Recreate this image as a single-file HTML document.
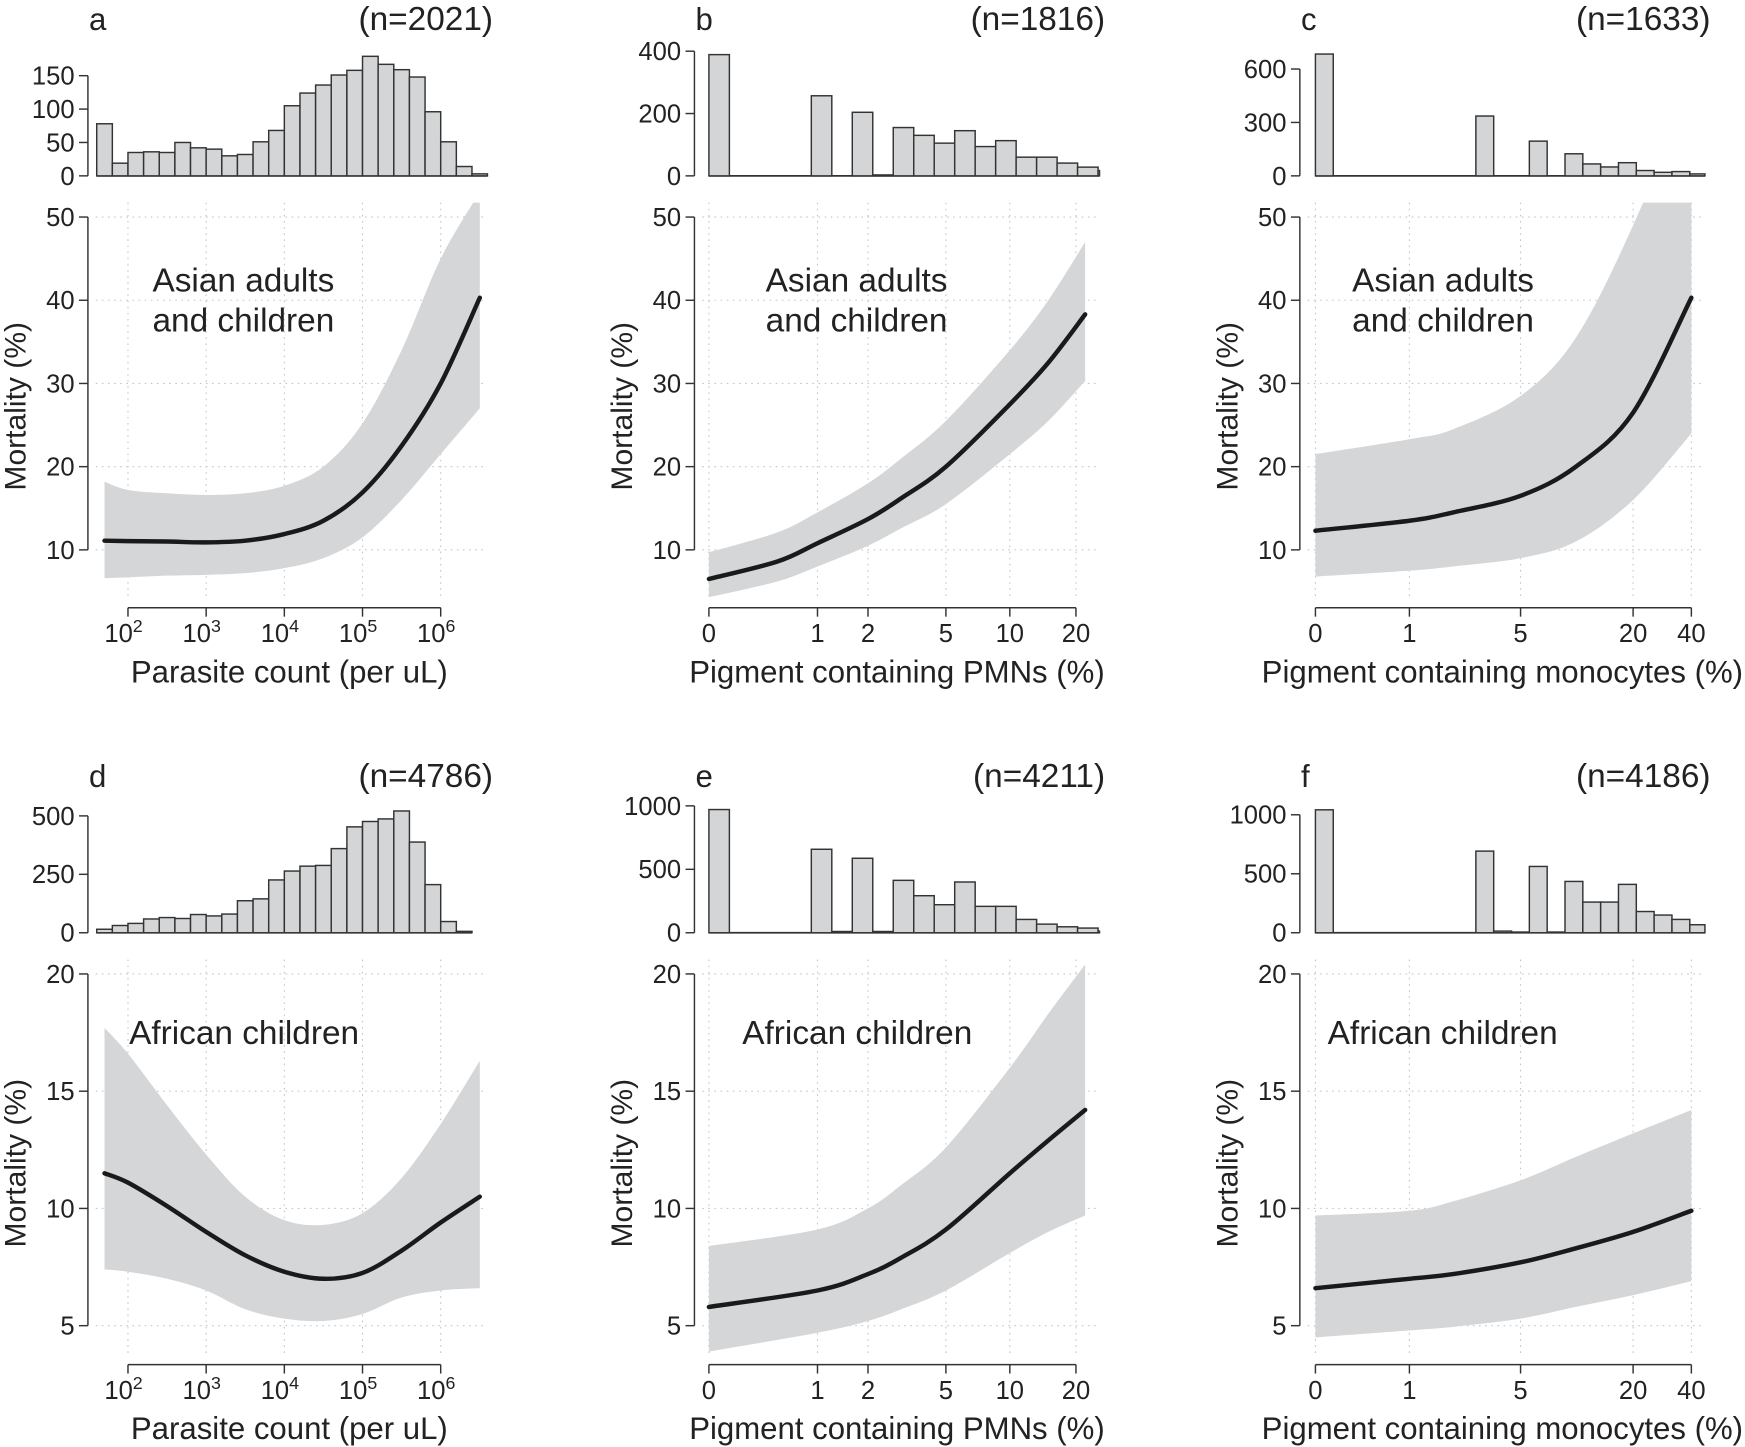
<!DOCTYPE html>
<html><head><meta charset="utf-8"><style>
html,body{margin:0;padding:0;background:#fff}
svg{display:block}
text{font-family:"Liberation Sans",Arial,sans-serif;fill:#222}
</style></head><body>
<svg id="fig" width="1745" height="1447" viewBox="0 0 1568 1300" preserveAspectRatio="none" xmlns="http://www.w3.org/2000/svg"></svg>
<script>
// ---- data ----
const histA = [78,19,35,36,35,50,42,40,30,32,51,68,105,124,136,151,158,179,167,159,148,96,51,14,3];
const histB = [389,0,0,0,0,257,0,204,3,155,130,105,145,94,113,60,60,41,28,17];
const histC = [684,0,0,0,0,0,0,0,0,336,0,0,195,0,124,67,50,74,30,20,24,11];
const histD = [15,31,40,59,65,61,78,72,80,137,145,226,264,285,288,360,453,476,487,521,388,206,48,6];
const histE = [971,0,0,0,0,658,10,587,10,413,292,221,400,208,208,105,68,47,37,13];
const histF = [1042,0,0,0,0,0,0,0,0,692,14,6,562,6,435,260,260,410,180,150,113,68];

const xA = [1.7,2,2.5,3,3.5,4,4.5,5,5.5,6,6.5];
const fitA = [11.1,11.05,11.0,10.9,11.1,11.9,13.5,16.9,22.5,30,40.3];
const loA = [6.6,6.7,6.9,7,7.2,7.8,9,11.5,16,21.5,27];
const hiA = [18.2,17.2,16.8,16.6,16.8,17.7,20,25.2,34,45,53];

const xB = [0,0.5,1,2,3,5,10,15,22];
const fitB = [6.5,8.6,10.8,13.7,16.2,20,27.5,32.5,38.3];
const loB = [4.3,6.2,8,10.5,12.6,15.5,21.5,25.5,30.3];
const hiB = [9.7,12.1,14.5,18,21,25.5,34,40,47];

const xC = [0,1,2,5,10,20,40];
const fitC = [12.3,13.5,14.5,16.5,20,26.5,40.3];
const loC = [6.8,7.5,8,9,11,16,24];
const hiC = [21.5,23.3,24.5,28.5,35.5,49,66];

const xD = [1.7,2,2.5,3,3.5,4,4.5,5,5.5,6,6.5];
const fitD = [11.5,11.1,10.1,9,8,7.3,7.0,7.25,8.2,9.4,10.5];
const loD = [7.4,7.3,7,6.5,5.7,5.3,5.2,5.5,6.2,6.5,6.6];
const hiD = [17.7,16.6,14.4,12.3,10.5,9.5,9.3,9.8,11.3,13.6,16.3];

const xE = [0,1,2,3,5,10,15,22];
const fitE = [5.8,6.5,7.2,7.9,9.1,11.5,12.9,14.2];
const loE = [3.9,4.7,5.2,5.7,6.5,8.1,9,9.7];
const hiE = [8.4,9.1,10,11,12.6,16,18.3,20.4];

const xF = [0,1,2,5,10,20,40];
const fitF = [6.6,7,7.2,7.7,8.3,9,9.9];
const loF = [4.5,4.8,4.95,5.3,5.8,6.3,6.9];
const hiF = [9.7,9.9,10.3,11.2,12.2,13.2,14.2];

const logTicks = [2,3,4,5,6];
const pmnTicks = [0,1,2,5,10,20];
const monoTicks = [0,1,5,20,40];
const topYTicks = [10,20,30,40,50];
const botYTicks = [5,10,15,20];

const NS = "http://www.w3.org/2000/svg";
const svg = document.getElementById('fig');
function mk(tag, attrs, parent, txt){
  const e = document.createElementNS(NS, tag);
  for (const k in attrs) e.setAttribute(k, attrs[k]);
  if (txt !== undefined) e.textContent = txt;
  (parent||svg).appendChild(e);
  return e;
}
function spline(pts){
  let d = 'M'+pts[0][0].toFixed(2)+','+pts[0][1].toFixed(2);
  for (let i=0;i<pts.length-1;i++){
    const p0=pts[Math.max(i-1,0)],p1=pts[i],p2=pts[i+1],p3=pts[Math.min(i+2,pts.length-1)];
    const c1=[p1[0]+(p2[0]-p0[0])/6,p1[1]+(p2[1]-p0[1])/6];
    const c2=[p2[0]-(p3[0]-p1[0])/6,p2[1]-(p3[1]-p1[1])/6];
    d+=' C'+c1[0].toFixed(2)+','+c1[1].toFixed(2)+' '+c2[0].toFixed(2)+','+c2[1].toFixed(2)+' '+p2[0].toFixed(2)+','+p2[1].toFixed(2);
  }
  return d;
}

function panel(o){
  const g = mk('g', {}, svg);
  
  
  const dy = o.dy;
  const X = o.xf;
  const Y = v => o.yTop + (o.yMax - v)*(o.yBot - o.yTop)/(o.yMax - o.yMin);
  const HY = v => 158+dy - v*o.hScale;
  const t1 = mk('text', {x:o.ax+1, y:27+dy, 'font-size':28}, g, o.letter);
  
  
  const t2 = mk('text', {x:o.right+6, y:27+dy, 'font-size':30, 'text-anchor':'end'}, g, o.n);
  
  
  const hg = mk('g', {}, g);
  
  
  const hx0 = X.hb(o.hStart);
  const hx1 = Math.min(X.hb(o.hStart + o.hist.length*o.hW), o.right+1);
  const bl = mk('line', {x1:hx0, x2:hx1, y1:158+dy, y2:158+dy, stroke:'#333', 'stroke-width':1.6}, hg);
  
  
  o.hist.forEach((c,i)=>{
    const x1 = X.hb(o.hStart + i*o.hW);
    let x2 = X.hb(o.hStart + (i+1)*o.hW);
    x2 = Math.min(x2, o.right+1);
    if (c<=0) return;
    const r = mk('rect', {x:x1, y:HY(c), width:Math.max(x2-x1,0.5), height:158+dy-HY(c), fill:'#d4d5d7', stroke:'#333', 'stroke-width':1.3}, hg);
    
    
  });
  const hax = mk('g', {}, g);
  
  
  const hmax = o.hTicks[o.hTicks.length-1];
  mk('line', {x1:o.ax, x2:o.ax, y1:HY(hmax), y2:HY(0), stroke:'#333','stroke-width':1.3}, hax);
  o.hTicks.forEach(t=>{
    mk('line', {x1:o.ax-8, x2:o.ax, y1:HY(t), y2:HY(t), stroke:'#333','stroke-width':1.3}, hax);
    mk('text', {x:o.ax-12, y:HY(t)+8, 'font-size':23, 'text-anchor':'end'}, hax, String(t));
  });
  const grid = mk('g', {stroke:'#c8c8c8','stroke-width':1,'stroke-dasharray':'1.5,4'}, g);
  
  
  o.xTicks.forEach(t=>{ mk('line',{x1:X.t(t),x2:X.t(t),y1:182+dy,y2:536+dy},grid); });
  o.yTicks.forEach(t=>{ mk('line',{x1:o.ax+7,x2:o.right,y1:Y(t),y2:Y(t)},grid); });
  const cid = 'clip'+o.letter;
  const cp = mk('clipPath', {id:cid}, svg);
  mk('rect', {x:o.ax, y:182+dy, width:o.right-o.ax, height:360}, cp);
  const up = o.xs.map((v,i)=>[X.t(v), Y(o.hi[i])]);
  const lo = o.xs.map((v,i)=>[X.t(v), Y(o.lo[i])]).reverse();
  let dBand = spline(up) + ' L' + lo[0][0]+','+lo[0][1] + spline(lo).replace(/^M[^C]*/, ' ') + ' Z';
  const band = mk('path', {d:dBand, fill:'#d5d6d8', stroke:'none', 'clip-path':'url(#'+cid+')'}, g);
  
  
  const fit = mk('path', {d:spline(o.xs.map((v,i)=>[X.t(v), Y(o.fit[i])])), fill:'none', stroke:'#1a1a1a', 'stroke-width':4, 'stroke-linecap':'round'}, g);
  
  
  const yax = mk('g', {}, g);
  
  
  mk('line', {x1:o.ax, x2:o.ax, y1:Y(o.yTicks[o.yTicks.length-1]), y2:Y(o.yTicks[0]), stroke:'#333','stroke-width':1.3}, yax);
  o.yTicks.forEach(t=>{
    mk('line', {x1:o.ax-8, x2:o.ax, y1:Y(t), y2:Y(t), stroke:'#333','stroke-width':1.3}, yax);
    mk('text', {x:o.ax-12, y:Y(t)+8, 'font-size':23, 'text-anchor':'end'}, yax, String(t));
  });
  const yl = mk('text', {x:0, y:0, 'font-size':27, 'text-anchor':'middle', transform:'translate('+(o.ax-56)+','+(365+dy)+') rotate(-90)'}, g, 'Mortality (%)');
  
  
  const xax = mk('g', {}, g);
  
  
  const ay = 546+dy;
  mk('line', {x1:X.t(o.xTicks[0]), x2:X.t(o.xTicks[o.xTicks.length-1]), y1:ay, y2:ay, stroke:'#333','stroke-width':1.3}, xax);
  o.xTicks.forEach(t=>{
    mk('line', {x1:X.t(t), x2:X.t(t), y1:ay, y2:ay+8, stroke:'#333','stroke-width':1.3}, xax);
    if (o.log){
      const tx = mk('text', {x:X.t(t)-4, y:ay+31, 'font-size':23, 'text-anchor':'middle'}, xax);
      tx.textContent = '10';
      mk('tspan', {dy:-9, 'font-size':16}, tx, String(t));
    } else {
      mk('text', {x:X.t(t), y:ay+31, 'font-size':23, 'text-anchor':'middle'}, xax, String(t));
    }
  });
  const xl = mk('text', {x:o.xlx, y:ay+67, 'font-size':28, 'text-anchor':'middle'}, g, o.xlabel);
  
  
  const an = mk('text', {x:o.annX, y:o.two?262+dy:258+dy, 'font-size':30}, g);
  
  
  if (o.two){
    mk('tspan', {x:o.annX, y:262+dy}, an, 'Asian adults');
    mk('tspan', {x:o.annX, y:298+dy}, an, 'and children');
  } else an.textContent = 'African children';
}

const logX = {t: v => 115 + 70.25*(v-2), hb: v => 115 + 70.25*(v-2)};
const pmnU = v => Math.log10((v+0.5)/0.5);
const pmnX = {t: v => 637 + 204.5*pmnU(v), hb: u => 637 + 204.5*u};
const monoX = {t: v => 1182 + 177*pmnU(v), hb: u => 1182 + 177*u};

const topCfg = {yTop:195, yBot:494, yMin:10, yMax:50, yTicks:topYTicks, dy:0, two:true};
const botCfg = {yTop:875, yBot:1191, yMin:5, yMax:20, yTicks:botYTicks, dy:680, two:false};

panel(Object.assign({}, topCfg, {letter:'a', n:'(n=2021)', ax:79, right:437, xf:logX, log:true, xTicks:logTicks, hist:histA, hStart:1.6, hW:0.2, hScale:0.6, hTicks:[0,50,100,150], xs:xA, fit:fitA, lo:loA, hi:hiA, xlabel:'Parasite count (per uL)', xlx:260, annX:137}));
panel(Object.assign({}, topCfg, {letter:'b', n:'(n=1816)', ax:624, right:987, xf:pmnX, log:false, xTicks:pmnTicks, hist:histB, hStart:0, hW:0.09, hScale:0.28, hTicks:[0,200,400], xs:xB, fit:fitB, lo:loB, hi:hiB, xlabel:'Pigment containing PMNs (%)', xlx:806, annX:688}));
panel(Object.assign({}, topCfg, {letter:'c', n:'(n=1633)', ax:1168, right:1531, xf:monoX, log:false, xTicks:monoTicks, hist:histC, hStart:0, hW:0.0905, hScale:0.16, hTicks:[0,300,600], xs:xC, fit:fitC, lo:loC, hi:hiC, xlabel:'Pigment containing monocytes (%)', xlx:1350, annX:1215}));
panel(Object.assign({}, botCfg, {letter:'d', n:'(n=4786)', ax:79, right:437, xf:logX, log:true, xTicks:logTicks, hist:histD, hStart:1.6, hW:0.2, hScale:0.21, hTicks:[0,250,500], xs:xD, fit:fitD, lo:loD, hi:hiD, xlabel:'Parasite count (per uL)', xlx:260, annX:116}));
panel(Object.assign({}, botCfg, {letter:'e', n:'(n=4211)', ax:624, right:987, xf:pmnX, log:false, xTicks:pmnTicks, hist:histE, hStart:0, hW:0.09, hScale:0.114, hTicks:[0,500,1000], xs:xE, fit:fitE, lo:loE, hi:hiE, xlabel:'Pigment containing PMNs (%)', xlx:806, annX:667}));
panel(Object.assign({}, botCfg, {letter:'f', n:'(n=4186)', ax:1168, right:1531, xf:monoX, log:false, xTicks:monoTicks, hist:histF, hStart:0, hW:0.0905, hScale:0.106, hTicks:[0,500,1000], xs:xF, fit:fitF, lo:loF, hi:hiF, xlabel:'Pigment containing monocytes (%)', xlx:1350, annX:1193}));
</script>
</body></html>
